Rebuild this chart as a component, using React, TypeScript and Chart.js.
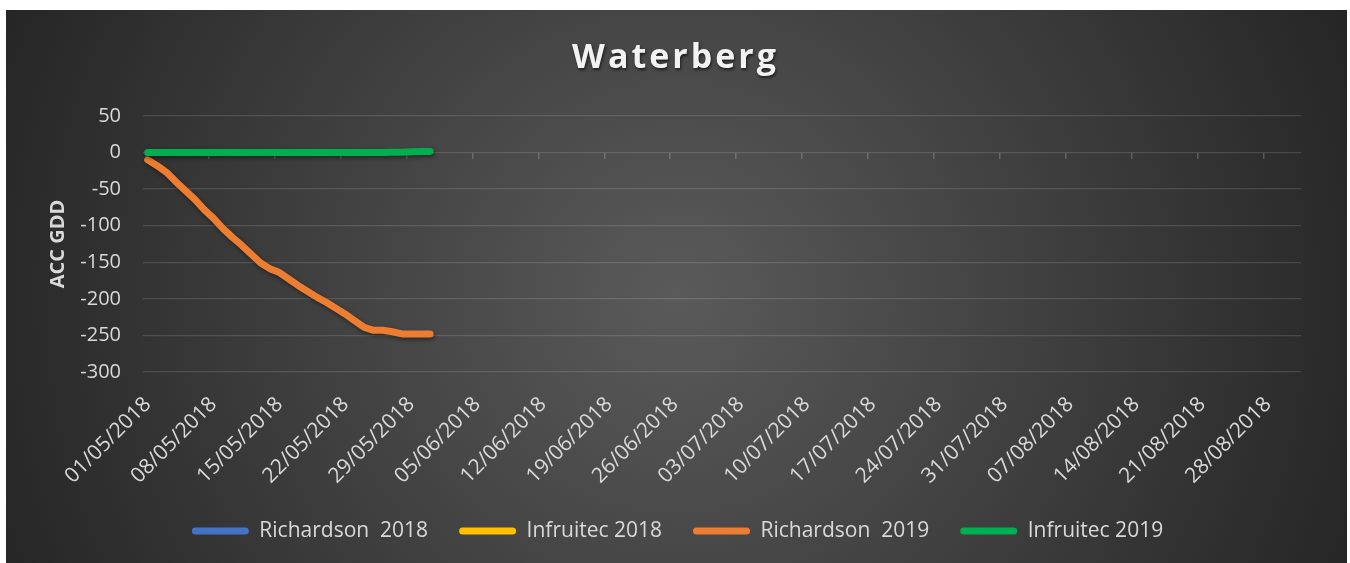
import React, { useEffect, useRef } from "react";
import { Chart, registerables } from "chart.js";

Chart.register(...registerables);

// ---- data ----
const months: [string, number][] = [["05", 31], ["06", 30], ["07", 31], ["08", 31]];
const categories: string[] = [];
for (const [m, n] of months) {
  for (let d = 1; d <= n; d++) categories.push(`${String(d).padStart(2, "0")}/${m}/2018`);
}
const labelEvery = 7;

const seriesNames = ["Richardson  2018", "Infruitec 2018", "Richardson  2019", "Infruitec 2019"];
const seriesColors = ["#4472c4", "#ffc000", "#ed7d31", "#00b050"];

const richardson2018: (number | null)[] = [];
const infruitec2018: (number | null)[] = [];
const richardson2019: number[] = [
  -10, -18, -27, -40, -52, -64, -78, -90, -104, -116,
  -127, -139, -151, -159, -164, -173, -182, -190, -198, -205,
  -213, -221, -230, -239, -243, -243, -245, -248, -248, -248, -248,
];
const infruitec2019: number[] = [
  0, 0, 0, 0, 0, 0, 0, 0, 0, 0,
  0, 0, 0, 0, 0, 0, 0, 0, 0, 0,
  0, 0, 0, 0, 0, 0, 0.3, 0.6, 1, 1.3, 1.6,
];

const yMin = -300;
const yMax = 50;
const yStep = 50;

const titleText = "Waterberg";
const yTitle = "ACC GDD";

const W = 1341;
const H = 553;

export default function App() {
  const ref = useRef<HTMLCanvasElement | null>(null);

  useEffect(() => {
    if (!ref.current) return;
    const textColor = "#d9d9d9";
    const font = "'Open Sans', 'DejaVu Sans', sans-serif";

    const shadowPlugin = {
      id: "lineShadow",
      beforeDatasetDraw(chart: any) {
        const ctx = chart.ctx;
        ctx.save();
        ctx.shadowColor = "rgba(0,0,0,0.45)";
        ctx.shadowBlur = 4;
        ctx.shadowOffsetX = 1;
        ctx.shadowOffsetY = 2;
      },
      afterDatasetDraw(chart: any) {
        chart.ctx.restore();
      },
    };

    const titleStyle = {
      id: "titleStyle",
      afterLayout(chart: any) {
        const lg = chart.legend;
        if (lg) {
          lg.left += 24;
          lg.right += 24;
        }
      },
      beforeDraw(chart: any) {
        const tb = chart.titleBlock;
        if (tb && !tb.__wrapped) {
          const orig = tb.draw.bind(tb);
          tb.draw = (...args: any[]) => {
            const ctx = chart.ctx;
            ctx.save();
            try { (ctx as any).letterSpacing = "3px"; } catch (e) {}
            ctx.translate(22, 0);
            ctx.shadowColor = "rgba(0,0,0,0.6)";
            ctx.shadowBlur = 3;
            ctx.shadowOffsetX = 1;
            ctx.shadowOffsetY = 2;
            orig(...args);
            ctx.restore();
          };
          tb.__wrapped = true;
        }
      },
    };

    const mk = (i: number, data: (number | null)[]) => ({
      label: seriesNames[i],
      data,
      borderColor: seriesColors[i],
      backgroundColor: seriesColors[i],
      borderWidth: 7,
      borderCapStyle: "round" as const,
      borderJoinStyle: "round" as const,
      pointRadius: 0,
      pointHoverRadius: 0,
      tension: 0,
      fill: false,
      order: 3 - i,
    });

    const chart = new Chart(ref.current, {
      type: "line",
      data: {
        labels: categories,
        datasets: [
          mk(0, richardson2018),
          mk(1, infruitec2018),
          mk(2, richardson2019),
          mk(3, infruitec2019),
        ],
      },
      plugins: [shadowPlugin, titleStyle],
      options: {
        responsive: false,
        animation: false,
        events: [],
        layout: { padding: { left: 0, right: 46, top: 0, bottom: 11.5 } },
        scales: {
          x: {
            type: "category",
            offset: true,
            grid: { display: false, drawTicks: false },
            border: { display: false },
            ticks: {
              autoSkip: false,
              minRotation: 45,
              maxRotation: 45,
              padding: 20,
              color: textColor,
              font: { family: font, size: 21 },
              callback: (_v: any, i: number) => (i % labelEvery === 0 ? categories[i] : null),
            },
            afterFit: (s: any) => { s.height = 117.5; },
          },
          x2: {
            type: "category",
            axis: "x",
            position: { y: 0 } as any,
            offset: true,
            ticks: { display: false },
            border: { display: false },
            grid: {
              display: true,
              offset: true,
              drawOnChartArea: false,
              drawTicks: true,
              tickLength: 6,
              lineWidth: 1.5,
              color: (c: any) => (c.index > 0 && c.index % labelEvery === 0 ? "rgba(255,255,255,0.2)" : "rgba(0,0,0,0)"),
            },
          },
          y: {
            min: yMin,
            max: yMax,
            border: { display: false },
            grid: { color: "rgba(255,255,255,0.13)", lineWidth: 1.3, drawTicks: false },
            ticks: {
              stepSize: yStep,
              padding: 22,
              color: textColor,
              font: { family: font, size: 20 },
            },
            title: {
              display: true,
              text: yTitle,
              color: textColor,
              font: { family: font, size: 20, weight: "bold" },
              padding: { top: 40, bottom: 0 },
            },
            afterFit: (s: any) => { s.width = 137; },
          },
        },
        plugins: {
          tooltip: { enabled: false },
          title: {
            display: true,
            text: titleText,
            color: "#f2f2f2",
            font: { family: font, size: 34, weight: "bold" },
            padding: { top: 28, bottom: 37.2 },
          },
          legend: {
            position: "bottom",
            labels: {
              color: textColor,
              font: { family: font, size: 21 },
              boxWidth: 57,
              boxHeight: 7,
              padding: 31,
              useBorderRadius: true,
              borderRadius: 3.5,
              generateLabels: (ch: any) =>
                ch.data.datasets.map((ds: any, i: number) => ({
                  text: ds.label,
                  fillStyle: ds.borderColor,
                  strokeStyle: ds.borderColor,
                  lineWidth: 0,
                  hidden: false,
                  datasetIndex: i,
                  fontColor: textColor,
                  borderRadius: 3.5,
                })),
            },
          },
        },
      } as any,
    });
    return () => chart.destroy();
  }, []);

  return (
    <div
      style={{
        position: "absolute",
        left: 6,
        top: 10,
        width: W,
        height: H,
        background: "radial-gradient(circle 720px at 50% 52%, #5a5a5a 0%, #262626 100%)",
      }}
    >
      <canvas ref={ref} width={W} height={H} style={{ display: "block", width: W, height: H }} />
    </div>
  );
}
